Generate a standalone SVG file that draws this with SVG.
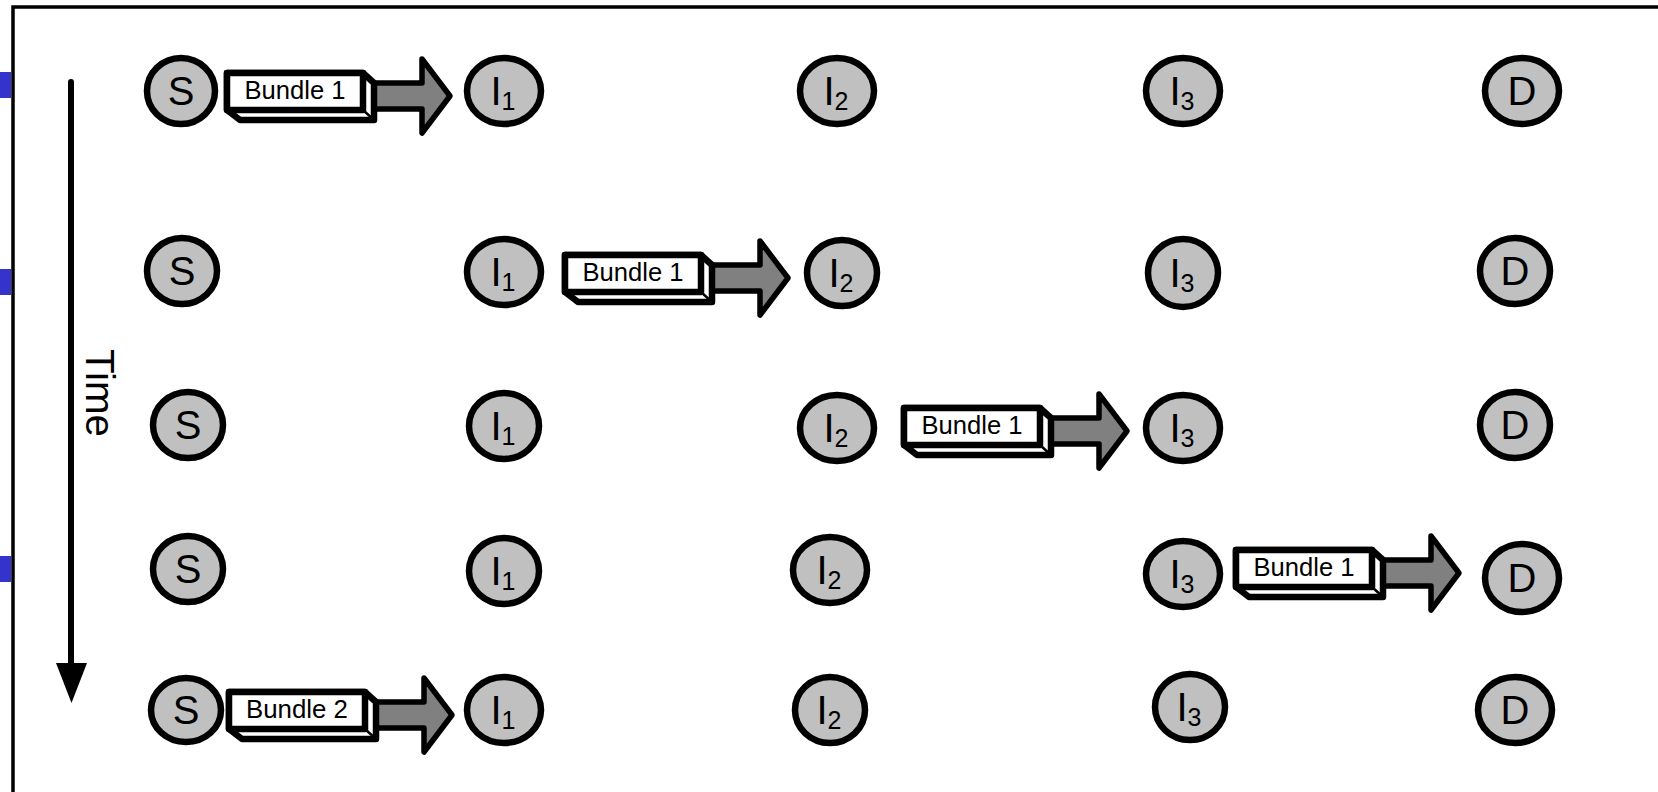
<svg xmlns="http://www.w3.org/2000/svg" xmlns:xlink="http://www.w3.org/1999/xlink" width="1658" height="792" viewBox="0 0 1658 792">
  <style>
    .frame { fill: none; stroke: #000; stroke-width: 3.5; }
    .tab { fill: #3434cc; }
    .node ellipse { fill: #c0c0c0; stroke: #000; stroke-width: 6.5; }
    .lbl { font-family: "Liberation Sans", Arial, sans-serif; font-size: 40px; fill: #000; text-anchor: middle; }
    .sub { font-size: 25px; }
    .btxt { font-family: "Liberation Sans", Arial, sans-serif; font-size: 25px; fill: #000; text-anchor: middle; }
    .time { font-family: "Liberation Sans", Arial, sans-serif; font-size: 41px; fill: #000; }
  </style>
  <defs>
    <!-- bundle: gray block arrow behind a white 3D box, origin at outer top-left -->
    <g id="bundle">
      <path d="M146,13 H198 V-11 L226,26 L198,63 V39 H146 Z" fill="#808080" stroke="#000" stroke-width="5.5" stroke-linejoin="round"/>
      <path d="M3,3 H139 L150,13 V50 H16 L3,40 Z" fill="#fff" stroke="#000" stroke-width="6.5" stroke-linejoin="round"/>
      <rect x="3" y="3" width="136" height="37" fill="#fff" stroke="#000" stroke-width="6.5" stroke-linejoin="round"/>
      <path d="M139,40 L150,50" fill="none" stroke="#000" stroke-width="2.5"/>
    </g>
  </defs>

  <rect width="1658" height="792" fill="#fff"/>

  <!-- page frame and side tabs -->
  <path class="frame" d="M13,800 V7 H1670"/>
  <rect class="tab" x="0" y="72" width="11" height="26"/>
  <rect class="tab" x="0" y="269" width="11" height="26"/>
  <rect class="tab" x="0" y="556" width="11" height="26"/>

  <!-- time axis -->
  <g id="time-axis">
    <line x1="71" y1="82" x2="71" y2="668" stroke="#000" stroke-width="6" stroke-linecap="round"/>
    <polygon points="56,663 87,663 71.5,703" fill="#000"/>
    <text class="time" transform="translate(86,349) rotate(90)" textLength="88" lengthAdjust="spacingAndGlyphs">Time</text>
  </g>

  <!-- transfers between nodes -->
  <g id="connectors">
    <g id="bundle-r1">
      <use xlink:href="#bundle" transform="translate(224,70)"/>
      <text class="btxt" x="295" y="99" textLength="101" lengthAdjust="spacingAndGlyphs">Bundle 1</text>
    </g>
    <g id="bundle-r2">
      <use xlink:href="#bundle" transform="translate(562,252)"/>
      <text class="btxt" x="633" y="281" textLength="101" lengthAdjust="spacingAndGlyphs">Bundle 1</text>
    </g>
    <g id="bundle-r3">
      <use xlink:href="#bundle" transform="translate(901,405)"/>
      <text class="btxt" x="972" y="434" textLength="101" lengthAdjust="spacingAndGlyphs">Bundle 1</text>
    </g>
    <g id="bundle-r4">
      <use xlink:href="#bundle" transform="translate(1233,547)"/>
      <text class="btxt" x="1304" y="576" textLength="101" lengthAdjust="spacingAndGlyphs">Bundle 1</text>
    </g>
    <g id="bundle-r5">
      <use xlink:href="#bundle" transform="translate(226,689)"/>
      <text class="btxt" x="297" y="718" textLength="102" lengthAdjust="spacingAndGlyphs">Bundle 2</text>
    </g>
  </g>

  <!-- row 1 -->
  <g id="r1-S" class="node"><ellipse cx="181" cy="91" rx="34" ry="33"/><text class="lbl" x="181" y="105">S</text></g>
  <g id="r1-I1" class="node"><ellipse cx="504" cy="91" rx="37" ry="33"/><text class="lbl" x="503" y="105">I<tspan class="sub" dy="5">1</tspan></text></g>
  <g id="r1-I2" class="node"><ellipse cx="837" cy="91" rx="37" ry="33"/><text class="lbl" x="836" y="105">I<tspan class="sub" dy="5">2</tspan></text></g>
  <g id="r1-I3" class="node"><ellipse cx="1183" cy="91" rx="37" ry="33"/><text class="lbl" x="1182" y="105">I<tspan class="sub" dy="5">3</tspan></text></g>
  <g id="r1-D" class="node"><ellipse cx="1522" cy="91" rx="37" ry="33"/><text class="lbl" x="1522" y="105">D</text></g>

  <!-- row 2 -->
  <g id="r2-S" class="node"><ellipse cx="182" cy="271" rx="35" ry="33"/><text class="lbl" x="182" y="285">S</text></g>
  <g id="r2-I1" class="node"><ellipse cx="504" cy="272" rx="37" ry="33"/><text class="lbl" x="503" y="286">I<tspan class="sub" dy="5">1</tspan></text></g>
  <g id="r2-I2" class="node"><ellipse cx="842" cy="273" rx="35" ry="33"/><text class="lbl" x="841" y="287">I<tspan class="sub" dy="5">2</tspan></text></g>
  <g id="r2-I3" class="node"><ellipse cx="1183" cy="273" rx="35" ry="34"/><text class="lbl" x="1182" y="287">I<tspan class="sub" dy="5">3</tspan></text></g>
  <g id="r2-D" class="node"><ellipse cx="1515" cy="271" rx="35" ry="33"/><text class="lbl" x="1515" y="285">D</text></g>

  <!-- row 3 -->
  <g id="r3-S" class="node"><ellipse cx="188" cy="425" rx="35" ry="33"/><text class="lbl" x="188" y="439">S</text></g>
  <g id="r3-I1" class="node"><ellipse cx="504" cy="426" rx="35" ry="33"/><text class="lbl" x="503" y="440">I<tspan class="sub" dy="5">1</tspan></text></g>
  <g id="r3-I2" class="node"><ellipse cx="837" cy="428" rx="37" ry="33"/><text class="lbl" x="836" y="442">I<tspan class="sub" dy="5">2</tspan></text></g>
  <g id="r3-I3" class="node"><ellipse cx="1183" cy="428" rx="37" ry="33"/><text class="lbl" x="1182" y="442">I<tspan class="sub" dy="5">3</tspan></text></g>
  <g id="r3-D" class="node"><ellipse cx="1515" cy="425" rx="35" ry="33"/><text class="lbl" x="1515" y="439">D</text></g>

  <!-- row 4 -->
  <g id="r4-S" class="node"><ellipse cx="188" cy="569" rx="35" ry="33"/><text class="lbl" x="188" y="583">S</text></g>
  <g id="r4-I1" class="node"><ellipse cx="504" cy="571" rx="35" ry="33"/><text class="lbl" x="503" y="585">I<tspan class="sub" dy="5">1</tspan></text></g>
  <g id="r4-I2" class="node"><ellipse cx="830" cy="570" rx="37" ry="33"/><text class="lbl" x="829" y="584">I<tspan class="sub" dy="5">2</tspan></text></g>
  <g id="r4-I3" class="node"><ellipse cx="1183" cy="574" rx="37" ry="33"/><text class="lbl" x="1182" y="588">I<tspan class="sub" dy="5">3</tspan></text></g>
  <g id="r4-D" class="node"><ellipse cx="1522" cy="578" rx="37" ry="34"/><text class="lbl" x="1522" y="592">D</text></g>

  <!-- row 5 -->
  <g id="r5-S" class="node"><ellipse cx="186" cy="710" rx="35" ry="32"/><text class="lbl" x="186" y="724">S</text></g>
  <g id="r5-I1" class="node"><ellipse cx="504" cy="710" rx="37" ry="33"/><text class="lbl" x="503" y="724">I<tspan class="sub" dy="5">1</tspan></text></g>
  <g id="r5-I2" class="node"><ellipse cx="830" cy="710" rx="35" ry="33"/><text class="lbl" x="829" y="724">I<tspan class="sub" dy="5">2</tspan></text></g>
  <g id="r5-I3" class="node"><ellipse cx="1190" cy="707" rx="35" ry="33"/><text class="lbl" x="1189" y="721">I<tspan class="sub" dy="5">3</tspan></text></g>
  <g id="r5-D" class="node"><ellipse cx="1515" cy="710" rx="37" ry="33"/><text class="lbl" x="1515" y="724">D</text></g>
</svg>
